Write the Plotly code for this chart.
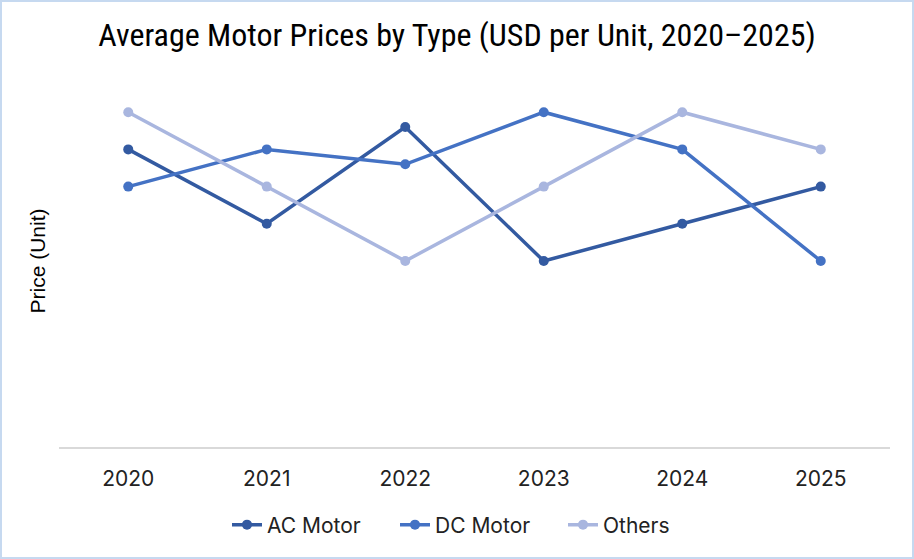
import plotly.graph_objects as go

years = ["2020", "2021", "2022", "2023", "2024", "2025"]
ac_motor = [8, 6, 8.6, 5, 6, 7]
dc_motor = [7, 8, 7.6, 9, 8, 5]
others = [9, 7, 5, 7, 9, 8]

series = [
    ("AC Motor", ac_motor, "#335AA1"),
    ("DC Motor", dc_motor, "#4472C4"),
    ("Others", others, "#A9B6DF"),
]

fig = go.Figure()
for name, vals, col in series:
    fig.add_trace(go.Scatter(
        x=years, y=vals, name=name, mode="lines+markers",
        line=dict(color=col, width=3.5),
        marker=dict(color=col, size=10),
    ))

W, H = 914, 559
ml, mr, mt, mb = 59, 24, 75, 112
pw, ph = W - ml - mr, H - mt - mb

fig.update_layout(
    width=W, height=H,
    margin=dict(l=ml, r=mr, t=mt, b=mb, autoexpand=False),
    paper_bgcolor="white", plot_bgcolor="white",
    title=dict(text="Average Motor Prices by Type (USD per Unit, 2020\u20132025)",
               x=0.5, xanchor="center", y=1 - 35 / H, yanchor="middle",
               font=dict(family="Liberation Sans Narrow, Roboto Condensed, Arial Narrow, sans-serif",
                         size=32, color="#000000")),
    xaxis=dict(type="category", range=[-0.5, 5.5], showgrid=False,
               showline=True, linecolor="#D9D9D9", linewidth=2,
               ticks="", tickfont=dict(family="Inter, Roboto, sans-serif", size=21, color="#222"),
               ticklabelstandoff=12),
    yaxis=dict(range=[0, 10], showgrid=False, showticklabels=False, zeroline=False,
               automargin=False,
               title=dict(text="Price (Unit)", standoff=6,
                          font=dict(family="Liberation Sans, Arial, sans-serif", size=21, color="#000"))),
    legend=dict(orientation="h", x=(227 - ml) / pw, xanchor="left",
                y=-(524 - 446) / ph, yanchor="middle",
                font=dict(family="Inter, Roboto, sans-serif", size=21, color="#222"),
                entrywidth=123, entrywidthmode="pixels", traceorder="normal"),
    showlegend=True,
    shapes=[dict(type="rect", xref="paper", yref="paper",
                 x0=-(ml - 1) / pw, x1=1 + (mr - 1) / pw,
                 y0=-(mb - 1) / ph, y1=1 + (mt - 1) / ph,
                 line=dict(color="#C6D9F0", width=2), fillcolor="rgba(0,0,0,0)", layer="below")],
)

fig.write_html("out.html", config={"displayModeBar": False},
               post_script="document.body.style.margin='0';document.body.style.overflow='hidden';")
